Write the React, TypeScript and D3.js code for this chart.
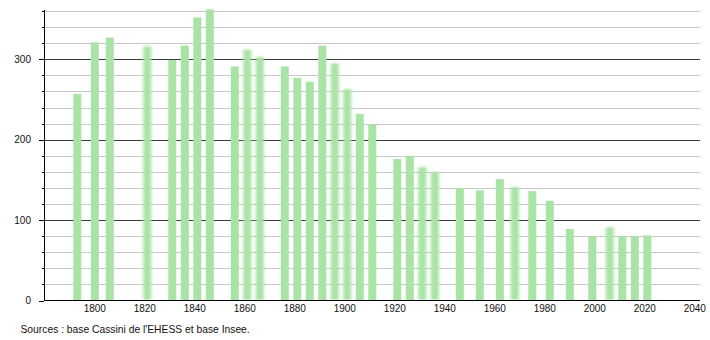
import React from "react";
import * as d3 from "d3";

const years = [1793, 1800, 1806, 1821, 1831, 1836, 1841, 1846, 1856, 1861, 1866, 1876, 1881, 1886, 1891, 1896, 1901, 1906, 1911, 1921, 1926, 1931, 1936, 1946, 1954, 1962, 1968, 1975, 1982, 1990, 1999, 2006, 2011, 2016, 2021];
const population = [257, 321, 327, 316, 299, 317, 352, 362, 291, 312, 303, 291, 277, 272, 317, 295, 263, 232, 219, 176, 180, 166, 160, 140, 137, 151, 141, 136, 124, 89, 80, 91, 80, 80, 81];
const blurredYears = [1821, 1861, 1866, 1896, 1901, 1931, 1936, 1968, 2006];
const xTickYears = [1800, 1820, 1840, 1860, 1880, 1900, 1920, 1940, 1960, 1980, 2000, 2020, 2040];
const yMajorTicks = [0, 100, 200, 300];
const yMinorTicks = [20, 40, 60, 80, 120, 140, 160, 180, 220, 240, 260, 280, 320, 340, 360];
const sourceText = "Sources : base Cassini de l'EHESS et base Insee.";

const W = 710;
const H = 340;
const plotLeft = 44;
const plotRight = 700;
const plotTop = 10;
const plotBottom = 300;
const font = "'Liberation Sans', Arial, sans-serif";

export default function App() {
  const x = d3.scaleLinear().domain([1800, 2040]).range([94.8, 694.8]);
  const y = d3.scaleLinear().domain([0, 360]).range([300.5, 11]);
  const barW = 8;
  const barColor = "#aae3a6";

  return (
    <svg width={W} height={H} style={{ position: "absolute", left: 0, top: 0, background: "#fff" }}>
      <defs>
        <filter id="blurX" x="-50%" y="-5%" width="200%" height="110%">
          <feGaussianBlur stdDeviation="1.6 0.8" />
        </filter>
      </defs>
      {yMinorTicks.map((t) => (
        <line key={"mg" + t} x1={plotLeft} x2={plotRight} y1={Math.round(y(t)) + 0.5} y2={Math.round(y(t)) + 0.5} stroke="#c8c8c8" strokeWidth={1} />
      ))}
      {yMajorTicks.filter((t) => t > 0).map((t) => (
        <line key={"Mg" + t} x1={plotLeft} x2={plotRight} y1={Math.round(y(t)) + 0.5} y2={Math.round(y(t)) + 0.5} stroke="#3a3a3a" strokeWidth={1} />
      ))}
      {years.map((yr, i) => {
        const v = population[i];
        const top = y(v);
        return (
          <rect
            key={yr}
            x={x(yr) - barW / 2}
            y={top}
            width={barW}
            height={plotBottom - top}
            fill={barColor}
            filter={blurredYears.includes(yr) ? "url(#blurX)" : undefined}
          />
        );
      })}
      <line x1={plotLeft + 0.5} x2={plotLeft + 0.5} y1={plotTop} y2={plotBottom + 1} stroke="#000" strokeWidth={1} />
      <line x1={plotLeft} x2={plotRight} y1={plotBottom + 0.5} y2={plotBottom + 0.5} stroke="#000" strokeWidth={1.2} />
      {yMinorTicks.map((t) => (
        <line key={"mt" + t} x1={plotLeft - 2} x2={plotLeft} y1={Math.round(y(t)) + 0.5} y2={Math.round(y(t)) + 0.5} stroke="#000" strokeWidth={1} />
      ))}
      {yMajorTicks.map((t) => (
        <line key={"Mt" + t} x1={plotLeft - 5} x2={plotLeft} y1={Math.round(y(t)) + 0.5} y2={Math.round(y(t)) + 0.5} stroke="#000" strokeWidth={1} />
      ))}
      {yMajorTicks.map((t) => (
        <text key={"yl" + t} x={31} y={y(t) + 3.5} textAnchor="end" fontFamily={font} fontSize={10} fill="#111">
          {t}
        </text>
      ))}
      {xTickYears.map((t) => (
        <text key={"xl" + t} x={x(t)} y={312} textAnchor="middle" fontFamily={font} fontSize={10} fill="#111">
          {t}
        </text>
      ))}
      <text x={20.5} y={333} fontFamily={font} fontSize={10.3} fill="#111">
        {sourceText}
      </text>
    </svg>
  );
}
